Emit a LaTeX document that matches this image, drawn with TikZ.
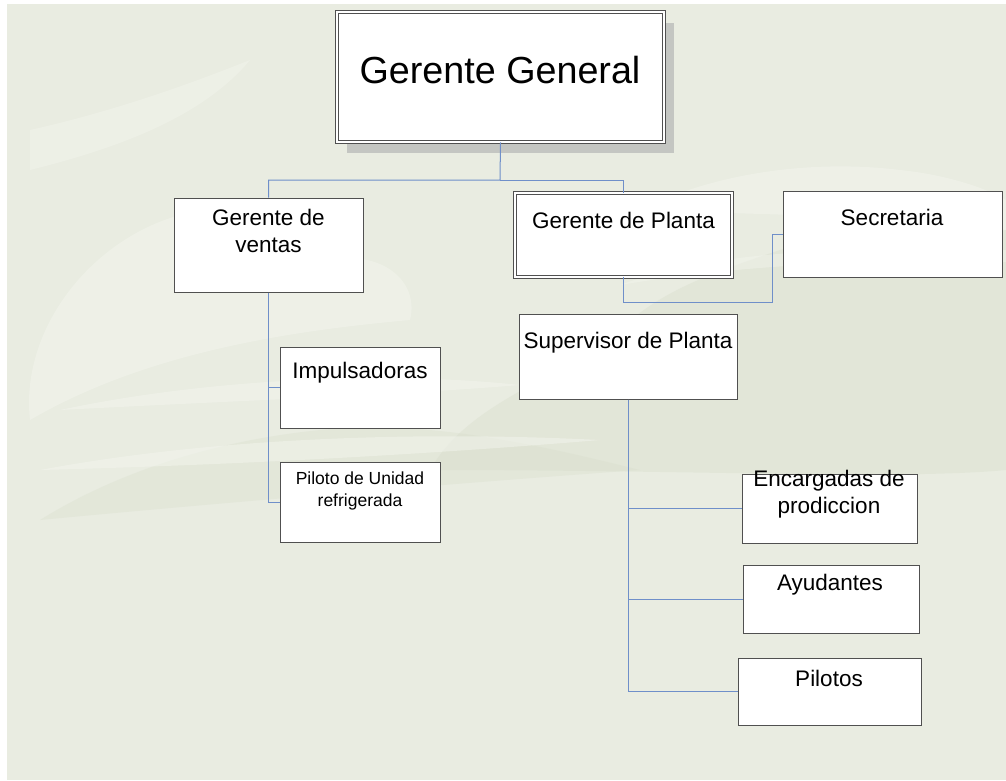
\documentclass[tikz,border=0pt]{standalone}
\usepackage{fontspec}
\setmainfont{Liberation Sans}
\definecolor{bgc}{HTML}{E9ECE1}
\definecolor{cloudlt}{HTML}{F3F5EE}
\definecolor{clouddk}{HTML}{D6DCC9}
\definecolor{connc}{HTML}{6F8FC9}
\definecolor{boxline}{HTML}{505050}
\definecolor{shadowc}{HTML}{C4C6C2}
\begin{document}
\begin{tikzpicture}[x=1pt,y=-1pt,
  box/.style={draw=boxline,line width=1pt,fill=white,minimum width=#1,inner sep=0pt},
  dbox/.style={draw=boxline,line width=0.8pt,double=white,double distance=1.6pt,fill=white},
  conn/.style={draw=connc,line width=1pt},
  lbl/.style={inner sep=0pt,align=center,font=\fontsize{22.5}{27}\selectfont},
  lblsm/.style={inner sep=0pt,align=center,font=\fontsize{17.5}{22}\selectfont}]
\useasboundingbox (0,0) rectangle (1006,780);
% background
\fill[white] (0,0) rectangle (1006,780);
\fill[bgc] (7,4) rectangle (1006,780);
% soft clouds
\begin{scope}
\clip (7,4) rectangle (1006,780);
\fill[clouddk,opacity=0.35] (430,470) .. controls (470,400) and (560,380) .. (620,330)
  .. controls (660,290) and (720,270) .. (780,250) .. controls (850,230) and (950,240) .. (1006,230)
  -- (1006,470) .. controls (900,480) and (700,470) .. (430,470) -- cycle;
\fill[clouddk,opacity=0.3] (40,520) .. controls (120,470) and (220,440) .. (320,430)
  .. controls (420,420) and (520,440) .. (640,470) .. controls (500,480) and (250,500) .. (40,520) -- cycle;
\fill[cloudlt,opacity=0.5] (30,420) .. controls (20,330) and (90,240) .. (180,215)
  .. controls (240,200) and (300,230) .. (330,260) .. controls (380,250) and (420,280) .. (410,320)
  .. controls (300,330) and (150,350) .. (30,420) -- cycle;
\fill[cloudlt,opacity=0.5] (60,410) .. controls (200,380) and (380,370) .. (520,385)
  .. controls (400,395) and (250,400) .. (60,410) -- cycle;
\fill[cloudlt,opacity=0.5] (40,470) .. controls (200,440) and (400,430) .. (600,440)
  .. controls (420,455) and (230,465) .. (40,470) -- cycle;
\fill[cloudlt,opacity=0.45] (30,130) .. controls (120,110) and (200,80) .. (250,60)
  .. controls (200,120) and (110,150) .. (30,170) -- cycle;
\fill[cloudlt,opacity=0.5] (640,210) .. controls (720,170) and (820,160) .. (900,170)
  .. controls (950,175) and (990,190) .. (1006,200) -- (1006,230)
  .. controls (900,215) and (760,215) .. (640,210) -- cycle;
\fill[cloudlt,opacity=0.45] (620,285) .. controls (700,255) and (820,245) .. (1006,250) -- (1006,262)
  .. controls (850,258) and (720,268) .. (620,285) -- cycle;
\end{scope}
% shadow of top box
\fill[shadowc] (347,23) rectangle (674,153);
% boxes
\node (gg) [dbox,minimum width=327pt,minimum height=130pt,inner sep=0pt] at (500.5,77) {};
\node (gv) [box=189pt,minimum height=94pt] at (268.5,245) {};
\node (gp) [dbox,minimum width=217pt,minimum height=84pt,inner sep=0pt] at (623.5,235) {};
\node (sec) [box=219pt,minimum height=86pt] at (892.5,234) {};
\node (sp) [box=218pt,minimum height=85pt] at (628,356.5) {};
\node (imp) [box=160pt,minimum height=81pt] at (360,387.5) {};
\node (pil) [box=160pt,minimum height=80pt] at (360,502) {};
\node (enc) [box=175pt,minimum height=69pt] at (829.5,508.5) {};
\node (ayu) [box=176pt,minimum height=68pt] at (831,599) {};
\node (plt) [box=183pt,minimum height=67pt] at (829.5,691.5) {};
% labels
\node (tgg) [inner sep=0pt,font=\fontsize{37.7}{44}\selectfont] at (500,70) {Gerente General};
\node (tgv) [lbl] at (268.5,230.5) {Gerente de\\ventas};
\node (tgp) [lbl] at (623.5,220) {Gerente de Planta};
\node (tsec) [lbl] at (892,217) {Secretaria};
\node (tsp) [lbl] at (628,343) {Supervisor de Planta};
\node (timp) [lbl] at (360,373) {Impulsadoras};
\node (tpil) [lblsm] at (360,491) {Piloto de Unidad\\refrigerada};
\node (tenc) [lbl] at (829,494.5) {Encargadas de\\prodiccion};
\node (tayu) [lbl] at (830,585) {Ayudantes};
\node (tplt) [lbl] at (829,678) {Pilotos};
% connectors
\coordinate (bus) at (500,180);
\coordinate (sb) at (772,302);
\draw[conn] (gg.south) -- (bus) -| (gv.north);
\draw[conn] (bus) -| (gp.north);
\draw[conn] (gv.south) |- (imp.west);
\draw[conn] (gv.south) |- (pil.west);
\draw[conn] (gp.south) |- (sb) |- (sec.west);
\draw[conn] (sp.south) |- (enc.west);
\draw[conn] (sp.south) |- (ayu.west);
\draw[conn] (sp.south) |- (plt.west);
\end{tikzpicture}
\end{document}
